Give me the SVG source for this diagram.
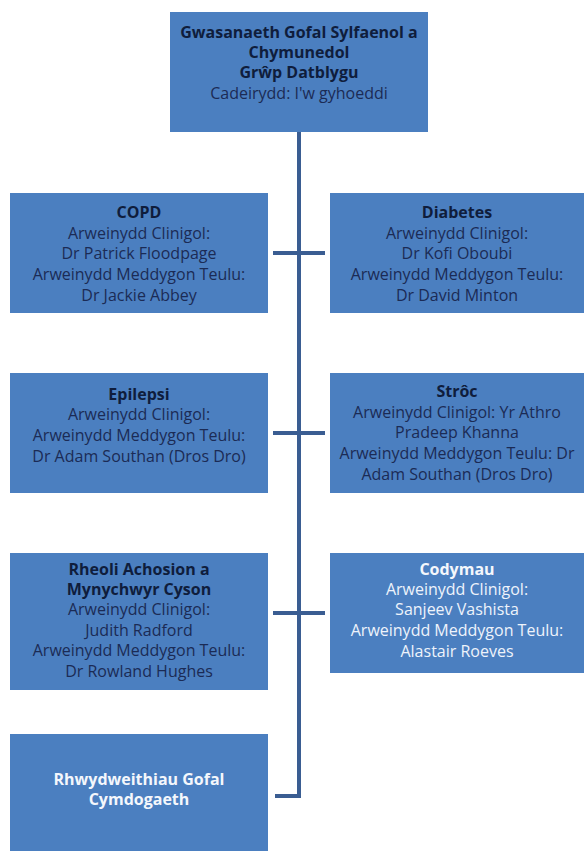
<svg xmlns="http://www.w3.org/2000/svg" width="584" height="851" viewBox="0 0 584 851">
<style>
.box{fill:#4b7fc0;}
text{font-family:"Open Sans","Liberation Sans",sans-serif;font-size:16px;text-anchor:middle;fill:#1b2b55;}
.b{font-weight:bold;fill:#0f1d3c;}
.w{fill:#eef3fb;}
.wb{fill:#f4f7fc;font-weight:bold;}
.conn{stroke:#3a5d92;stroke-width:4;fill:none;}
</style>
<rect width="584" height="851" fill="#ffffff"/>
<g id="connectors">
<path class="conn" d="M299 132 V796 H275"/>
<path class="conn" d="M273 253 H325"/>
<path class="conn" d="M273 433 H325"/>
<path class="conn" d="M273 613 H325"/>
</g>
<g id="top">
<rect class="box" x="170" y="12" width="258" height="120"/>
<text class="b" x="299" y="38">Gwasanaeth Gofal Sylfaenol a</text>
<text class="b" x="299" y="58">Chymunedol</text>
<text class="b" x="299" y="78">Grŵp Datblygu</text>
<text x="299" y="99">Cadeirydd: I'w gyhoeddi</text>
</g>
<g id="copd">
<rect class="box" x="10" y="193" width="258" height="120"/>
<text class="b" x="139" y="218">COPD</text>
<text x="139" y="239">Arweinydd Clinigol:</text>
<text x="139" y="259">Dr Patrick Floodpage</text>
<text x="139" y="280">Arweinydd Meddygon Teulu:</text>
<text x="139" y="301">Dr Jackie Abbey</text>
</g>
<g id="diabetes">
<rect class="box" x="330" y="193" width="254" height="120"/>
<text class="b" x="457" y="218">Diabetes</text>
<text x="457" y="239">Arweinydd Clinigol:</text>
<text x="457" y="259">Dr Kofi Oboubi</text>
<text x="457" y="280">Arweinydd Meddygon Teulu:</text>
<text x="457" y="301">Dr David Minton</text>
</g>
<g id="epilepsi">
<rect class="box" x="10" y="373" width="258" height="120"/>
<text class="b" x="139" y="400">Epilepsi</text>
<text x="139" y="420">Arweinydd Clinigol:</text>
<text x="139" y="441">Arweinydd Meddygon Teulu:</text>
<text x="139" y="462">Dr Adam Southan (Dros Dro)</text>
</g>
<g id="stroc">
<rect class="box" x="330" y="373" width="254" height="120"/>
<text class="b" x="457" y="397">Strôc</text>
<text x="457" y="418">Arweinydd Clinigol: Yr Athro</text>
<text x="457" y="438">Pradeep Khanna</text>
<text x="457" y="459">Arweinydd Meddygon Teulu: Dr</text>
<text x="457" y="480">Adam Southan (Dros Dro)</text>
</g>
<g id="rheoli">
<rect class="box" x="10" y="553" width="258" height="137"/>
<text class="b" x="139" y="575">Rheoli Achosion a</text>
<text class="b" x="139" y="595">Mynychwyr Cyson</text>
<text x="139" y="615">Arweinydd Clinigol:</text>
<text x="139" y="636">Judith Radford</text>
<text x="139" y="656">Arweinydd Meddygon Teulu:</text>
<text x="139" y="677">Dr Rowland Hughes</text>
</g>
<g id="codymau">
<rect class="box" x="330" y="553" width="254" height="120"/>
<text class="wb" x="457" y="575">Codymau</text>
<text class="w" x="457" y="595">Arweinydd Clinigol:</text>
<text class="w" x="457" y="615">Sanjeev Vashista</text>
<text class="w" x="457" y="636">Arweinydd Meddygon Teulu:</text>
<text class="w" x="457" y="657">Alastair Roeves</text>
</g>
<g id="rhwydweithiau">
<rect class="box" x="10" y="734" width="258" height="117"/>
<text class="wb" x="139" y="785">Rhwydweithiau Gofal</text>
<text class="wb" x="139" y="805">Cymdogaeth</text>
</g>
</svg>
